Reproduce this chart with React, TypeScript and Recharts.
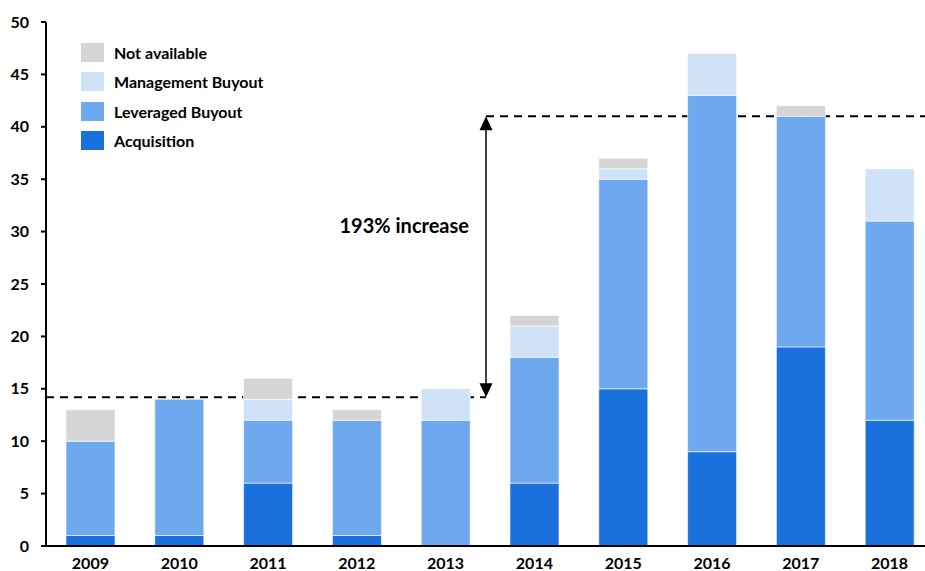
import React from 'react';
import {
  BarChart,
  Bar,
  XAxis,
  YAxis,
  Legend,
  ReferenceArea,
} from 'recharts';

const YEARS: string[] = ['2009', '2010', '2011', '2012', '2013', '2014', '2015', '2016', '2017', '2018'];
const ACQUISITION: number[] = [1, 1, 6, 1, 0, 6, 15, 9, 19, 12];
const LEVERAGED_BUYOUT: number[] = [9, 13, 6, 11, 12, 12, 20, 34, 22, 19];
const MANAGEMENT_BUYOUT: number[] = [0, 0, 2, 0, 3, 3, 1, 4, 0, 5];
const NOT_AVAILABLE: number[] = [3, 0, 2, 1, 0, 1, 1, 0, 1, 0];
const Y_TICKS: number[] = [0, 5, 10, 15, 20, 25, 30, 35, 40, 45, 50];

// annotation: 2009-2013 average level vs. 2014-2018 level
const LOW_LEVEL = 14.2;
const HIGH_LEVEL = 41;
const ANNOTATION_TEXT = '193% increase';

const SERIES = [
  { key: 'acquisition', name: 'Acquisition', color: '#1a70dc', values: ACQUISITION },
  { key: 'lbo', name: 'Leveraged Buyout', color: '#6ea8ee', values: LEVERAGED_BUYOUT },
  { key: 'mbo', name: 'Management Buyout', color: '#cfe2f8', values: MANAGEMENT_BUYOUT },
  { key: 'na', name: 'Not available', color: '#d5d5d7', values: NOT_AVAILABLE },
];

const data = YEARS.map((year, i) => {
  const row: Record<string, string | number> = { year };
  SERIES.forEach((s) => {
    row[s.key] = s.values[i];
  });
  return row;
});

const FONT = 'Lato, "Open Sans", sans-serif';

const LegendBox = () => (
  <div style={{ fontFamily: FONT, fontWeight: 700, fontSize: 16, color: '#000', whiteSpace: 'nowrap' }}>
    {[...SERIES].reverse().map((s) => (
      <div key={s.key} style={{ display: 'flex', alignItems: 'center', height: 29.3 }}>
        <span style={{ display: 'inline-block', width: 23, height: 19, background: s.color, marginRight: 10 }} />
        <span>{s.name}</span>
      </div>
    ))}
  </div>
);

const Annotation = (props: any) => {
  const { x, y, width, height } = props;
  const ax = x + width * 0.4955;
  const yLow = y + height;
  const head = 6.5;
  return (
    <g>
      <line x1={x} y1={yLow} x2={ax} y2={yLow} stroke="#000" strokeWidth={2} strokeDasharray="8 6" />
      <line x1={ax} y1={y} x2={x + width} y2={y} stroke="#000" strokeWidth={2} strokeDasharray="8 6" />
      <line x1={ax} y1={y + 10} x2={ax} y2={yLow - 10} stroke="#000" strokeWidth={1.5} />
      <path d={`M${ax},${y} L${ax - head},${y + 14} L${ax + head},${y + 14} Z`} fill="#000" />
      <path d={`M${ax},${yLow} L${ax - head},${yLow - 14} L${ax + head},${yLow - 14} Z`} fill="#000" />
      <text
        x={ax - 17}
        y={y + height * 0.388}
        textAnchor="end"
        dominantBaseline="central"
        fontFamily={FONT}
        fontWeight={700}
        fontSize={20}
        fill="#000"
      >
        {ANNOTATION_TEXT}
      </text>
    </g>
  );
};

export default function App() {
  return (
    <div style={{ position: 'absolute', left: 0, top: 0, width: 925, height: 571, overflow: 'hidden', background: '#fff' }}>
      <BarChart
        width={934}
        height={571}
        data={data}
        margin={{ top: 22, right: 0, bottom: 0, left: 0 }}
        barSize={49}
      >
        <XAxis
          dataKey="year"
          axisLine={{ stroke: '#000', strokeWidth: 2 }}
          tickLine={false}
          tickMargin={6}
          height={25}
          tick={{ fill: '#000', fontFamily: FONT, fontWeight: 700, fontSize: 16 }}
        />
        <YAxis
          width={46}
          domain={[0, 50]}
          ticks={Y_TICKS}
          interval={0}
          axisLine={{ stroke: '#000', strokeWidth: 2 }}
          tickLine={{ stroke: '#000', strokeWidth: 2 }}
          tickSize={5}
          tickMargin={12}
          tick={{ fill: '#000', fontFamily: FONT, fontWeight: 700, fontSize: 16 }}
        />
        <ReferenceArea
          y1={LOW_LEVEL}
          y2={HIGH_LEVEL}
          ifOverflow="visible"
          shape={(p: any) => <Annotation {...p} />}
        />
        {SERIES.map((s) => (
          <Bar
            key={s.key}
            dataKey={s.key}
            name={s.name}
            stackId="deals"
            fill={s.color}
            stroke="#ffffff"
            strokeOpacity={0.6}
            strokeWidth={1}
            isAnimationActive={false}
          />
        ))}
        <Legend
          layout="vertical"
          align="center"
          verticalAlign="middle"
          content={() => <LegendBox />}
          wrapperStyle={{ position: 'absolute', top: 38, left: 81, width: 'auto', height: 'auto' }}
        />
      </BarChart>
    </div>
  );
}
